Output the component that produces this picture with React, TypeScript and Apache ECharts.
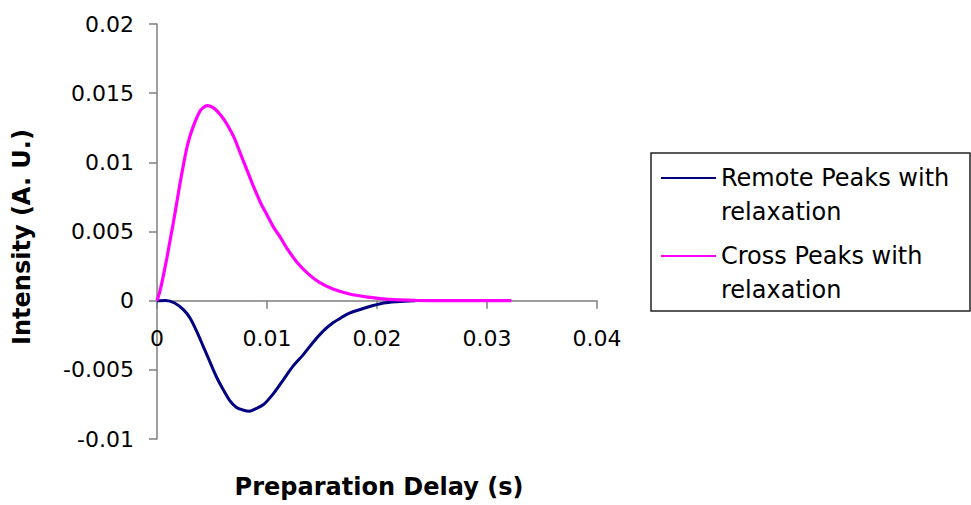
import React, { useEffect, useRef } from "react";
import * as echarts from "echarts";

const remoteName = "Remote Peaks with\nrelaxation";
const crossName = "Cross Peaks with\nrelaxation";

const remoteX = [0, 0.0008, 0.0016, 0.0024, 0.003, 0.0036, 0.0042, 0.0048, 0.0054, 0.006, 0.0066, 0.0072, 0.0078, 0.0084, 0.009, 0.0097, 0.0106, 0.0115, 0.0124, 0.0133, 0.0142, 0.0151, 0.016, 0.0168, 0.0175, 0.0191, 0.0206, 0.0218, 0.0235];
const remoteY = [0, 0.00002, -0.00017, -0.00065, -0.00125, -0.0022, -0.0033, -0.0044, -0.0055, -0.0064, -0.0072, -0.0077, -0.0079, -0.008, -0.0078, -0.0075, -0.0067, -0.0057, -0.0047, -0.0039, -0.003, -0.0022, -0.0016, -0.0012, -0.0009, -0.00048, -0.00017, -0.00007, 0];

const crossX = [0, 0.0003, 0.0006, 0.0009, 0.0012, 0.0015, 0.0018, 0.0021, 0.0024, 0.0027, 0.003, 0.0033, 0.0036, 0.004, 0.0046, 0.0052, 0.0058, 0.0064, 0.007, 0.0076, 0.0082, 0.0088, 0.0094, 0.01, 0.0106, 0.0112, 0.0118, 0.0128, 0.0138, 0.0148, 0.016, 0.0175, 0.019, 0.0205, 0.022, 0.0235, 0.026, 0.029, 0.0322];
const crossY = [0, 0.0008, 0.0019, 0.0031, 0.0044, 0.0057, 0.0071, 0.0085, 0.0098, 0.011, 0.0119, 0.0126, 0.0132, 0.0138, 0.0141, 0.0139, 0.0134, 0.0127, 0.0118, 0.0106, 0.0094, 0.0082, 0.0071, 0.0062, 0.0053, 0.0046, 0.0038, 0.0027, 0.0019, 0.0013, 0.00084, 0.00048, 0.00027, 0.00013, 0.00006, 0.00002, 0, 0, 0];

const xTickLabels = ["0", "0.01", "0.02", "0.03", "0.04"];
const yTickLabels = ["-0.01", "-0.005", "0", "0.005", "0.01", "0.015", "0.02"];

const FONT = "DejaVu Sans";
const AXIS_COLOR = "#7f7f7f";

const GRID_TOP = 24;
const GRID_BOTTOM_PX = 439;
const Y_MIN = -0.01;
const Y_MAX = 0.02;
// distance (px) from grid bottom up to the y = 0 line, so the x axis sits on zero
const ZERO_OFFSET = ((0 - Y_MIN) / (Y_MAX - Y_MIN)) * (GRID_BOTTOM_PX - GRID_TOP);

export default function App() {
  const ref = useRef<HTMLDivElement>(null);
  useEffect(() => {
    if (!ref.current) return;
    const chart = echarts.init(ref.current, null, { renderer: "svg" });
    const pairs = (xs: number[], ys: number[]) => xs.map((x, i) => [x, ys[i]]);
    chart.setOption({
      animation: false,
      backgroundColor: "#ffffff",
      grid: { left: 157, right: 374, top: GRID_TOP, bottom: 505 - GRID_BOTTOM_PX, containLabel: false, outerBoundsMode: "none" },
      xAxis: {
        type: "value",
        min: 0,
        max: 0.04,
        interval: 0.01,
        offset: -ZERO_OFFSET,
        name: "Preparation Delay (s)",
        nameLocation: "middle",
        nameGap: 174,
        nameTextStyle: { fontFamily: FONT, fontWeight: "bold", fontSize: 24, color: "#000", padding: [0, 0, 0, 4] },
        axisLine: { show: true, onZero: false, lineStyle: { color: AXIS_COLOR, width: 1.5 } },
        axisTick: { show: true, length: 8, lineStyle: { color: AXIS_COLOR, width: 1.5 } },
        axisLabel: {
          fontFamily: FONT,
          fontSize: 22,
          color: "#000",
          margin: 27,
          formatter: (_v: number, i: number) => xTickLabels[i] ?? "",
        },
        splitLine: { show: false },
      },
      yAxis: {
        type: "value",
        min: Y_MIN,
        max: Y_MAX,
        interval: 0.005,
        name: "Intensity (A. U.)",
        nameLocation: "middle",
        nameGap: 123,
        nameTextStyle: { fontFamily: FONT, fontWeight: "bold", fontSize: 24, color: "#000", padding: [0, 11, 0, 0] },
        axisLine: { show: true, onZero: false, lineStyle: { color: AXIS_COLOR, width: 1.5 } },
        axisTick: { show: true, length: 8, lineStyle: { color: AXIS_COLOR, width: 1.5 } },
        axisLabel: {
          fontFamily: FONT,
          fontSize: 22,
          color: "#000",
          margin: 23,
          formatter: (_v: number, i: number) => yTickLabels[i] ?? "",
        },
        splitLine: { show: false },
      },
      legend: {
        orient: "vertical",
        left: 661,
        top: 127,
        padding: 0,
        icon: "rect",
        itemWidth: 55,
        itemHeight: 2,
        itemGap: -24,
        itemTextGap: 5,
        data: [remoteName, crossName],
        formatter: (name: string) => "\n" + name,
        textStyle: { fontFamily: FONT, fontSize: 24, color: "#000", lineHeight: 34 },
      },
      graphic: [
        {
          type: "rect",
          shape: { x: 651, y: 153, width: 319, height: 158 },
          style: { fill: "none", stroke: "#222", lineWidth: 1.5 },
          silent: true,
        },
      ],
      series: [
        {
          name: remoteName,
          type: "line",
          data: pairs(remoteX, remoteY),
          symbol: "none",
          showSymbol: false,
          smooth: 0.3,
          lineStyle: { color: "#000080", width: 3 },
          itemStyle: { color: "#000080" },
        },
        {
          name: crossName,
          type: "line",
          data: pairs(crossX, crossY),
          symbol: "none",
          showSymbol: false,
          smooth: 0.3,
          lineStyle: { color: "#ff00ff", width: 3.2 },
          itemStyle: { color: "#ff00ff" },
        },
      ],
    });
    return () => chart.dispose();
  }, []);
  return (
    <div
      ref={ref}
      style={{ position: "fixed", left: 0, top: 0, width: 971, height: 505, background: "#fff" }}
    />
  );
}
